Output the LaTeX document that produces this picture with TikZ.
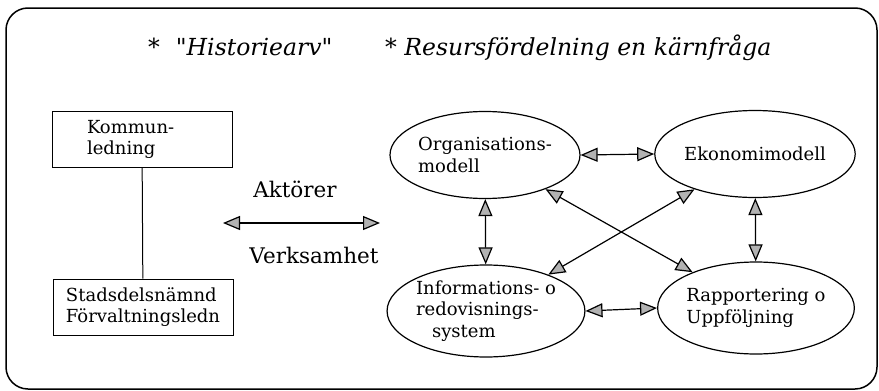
\documentclass[tikz,border=0pt]{standalone}
\usepackage{fontspec}
\setmainfont{DejaVu Serif}
\newfontfamily\titlefont{DejaVu Serif}
\usetikzlibrary{arrows.meta,shapes.geometric}

\tikzset{
  body/.style={font=\fontsize{18}{21.5}\selectfont},
  title/.style={font=\titlefont\fontsize{23.5}{27}\selectfont\itshape, inner sep=0pt},
  mid/.style={font=\fontsize{21.5}{25}\selectfont, inner sep=0pt},
  box/.style={body, draw, line width=1pt, minimum width=180pt, minimum height=56pt, inner sep=0pt, align=left},
  ell/.style={body, draw, ellipse, line width=1.2pt, minimum width=190pt, minimum height=87pt, inner sep=0pt, align=left},
  dbl/.style={{Triangle[length=17pt,width=14pt,fill=gray!60]}-{Triangle[length=17pt,width=14pt,fill=gray!60]}, line width=1.2pt}
}

\begin{document}
\begin{tikzpicture}[x=1pt,y=-1pt]

\useasboundingbox (0,0) rectangle (879,391);
\draw[line width=1.5pt, rounded corners=22pt] (6,8) rectangle (877,389);

\node[title, anchor=base west] (historia) at (148,55) {*\hspace{16pt}"Historiearv"};
\node[title, anchor=base west] (resurs) at (385,55) {* Resursfördelning en kärnfråga};

\node[box, text width=110pt] (kommun) at (142,139.5) {Kommun-\\ledning};
\node[box] (stadsdel) at (143,307) {Stadsdelsnämnd\\Förvaltningsledn};
\draw[line width=1pt] (kommun) -- (stadsdel);

\coordinate (akL) at (223,223);
\coordinate (akR) at (380,223);
\draw[dbl] (akL) -- (akR);
\node[mid, anchor=base] (aktorer) at (295,197) {Aktörer};
\node[mid, anchor=base] (verksamhet) at (314,263) {Verksamhet};

\node[ell] (organisation) at (485,155) {Organisations-\\modell};
\node[ell] (ekonomi) at (755,154) {Ekonomimodell};
\node[ell, minimum height=92pt] (information) at (486,311) {Informations- o\\redovisnings-\\\hspace*{16pt}system};
\node[ell, minimum height=92pt] (rapport) at (756,308) {Rapportering o\\Uppföljning};

\foreach \from/\to in {organisation/information, ekonomi/rapport, organisation/rapport, ekonomi/information}
	\draw[dbl] (\from) -- (\to);

\draw[dbl] (organisation.east) -- (ekonomi.west);
\draw[dbl] (information.east) -- (rapport.west);

\end{tikzpicture}
\end{document}
